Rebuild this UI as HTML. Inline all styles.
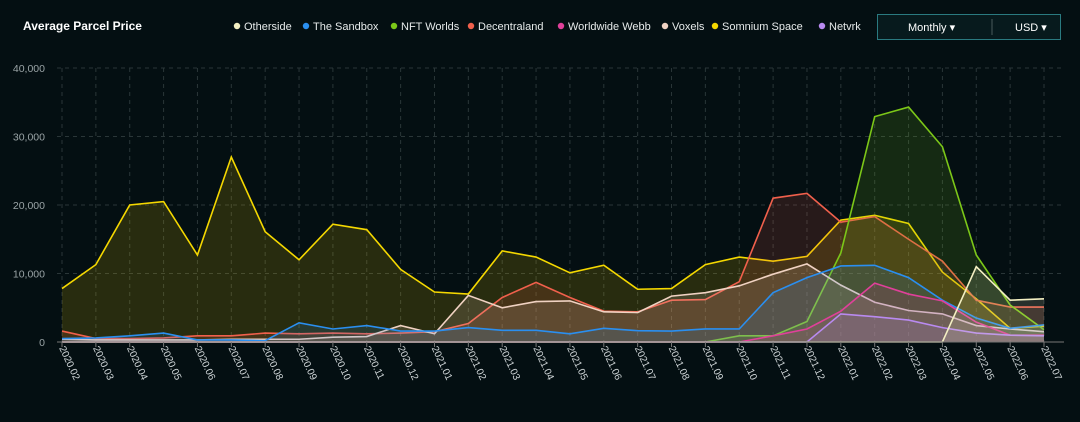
<!DOCTYPE html>
<html><head><meta charset="utf-8"><style>
body{margin:0;background:#040f12;width:1080px;height:417px;overflow:hidden;font-family:"Liberation Sans",sans-serif}
</style></head><body>
<svg width="1080" height="417" xmlns="http://www.w3.org/2000/svg">
<rect width="1080" height="417" fill="#040f12"/>
<text x="23" y="30" fill="#fff" font-size="12" font-weight="bold">Average Parcel Price</text>
<g id="legend"></g>
<g>
<rect x="877.5" y="14.5" width="183" height="25" fill="#071a1d" stroke="#2a7a80"/>
<text x="908" y="31" fill="#fff" font-size="11">Monthly ▾</text>
<line x1="992" y1="19" x2="992" y2="35" stroke="#4a5a5c"/>
<text x="1015" y="31" fill="#fff" font-size="11">USD ▾</text>
</g>
<g id="grid"></g><g id="series"></g><g id="axes"></g>
</svg>
<script>
const categories=["2020.02","2020.03","2020.04","2020.05","2020.06","2020.07","2020.08","2020.09","2020.10","2020.11","2020.12","2021.01","2021.02","2021.03","2021.04","2021.05","2021.06","2021.07","2021.08","2021.09","2021.10","2021.11","2021.12","2022.01","2022.02","2022.03","2022.04","2022.05","2022.06","2022.07"];
const yTicks=[0,10000,20000,30000,40000];
const seriesNames=["Otherside","The Sandbox","NFT Worlds","Decentraland","Worldwide Webb","Voxels","Somnium Space","Netvrk"];
const seriesColors=["#f3efc2","#2a8ff0","#7cc718","#f0604c","#e0409a","#f0d2c2","#f5d800","#b98af0"];
const somnium=[7800,11300,20000,20500,12700,27000,16100,12000,17200,16400,10600,7300,7000,13300,12400,10100,11200,7700,7800,11300,12400,11800,12500,17800,18500,17300,10200,6300,2000,2300];
const decentraland=[1600,500,500,600,900,900,1300,1200,1300,1200,1300,1500,2700,6500,8700,6500,4500,4400,6100,6200,8800,21000,21700,17500,18300,15000,11800,6100,5100,5100];
const nftWorlds=[0,0,0,0,0,0,0,0,0,0,0,0,0,0,0,0,0,0,0,0,900,900,3000,13000,32900,34300,28500,12700,5400,1800];
const sandbox=[500,600,900,1300,300,300,200,2800,1900,2400,1600,1600,2100,1700,1700,1200,2000,1650,1600,1900,1900,7200,9400,11100,11200,9400,6100,3500,2000,2500];
const webb=[0,0,0,0,0,0,0,0,0,0,0,0,0,0,0,0,0,0,0,0,0,900,1900,4500,8600,7000,6000,2900,1000,1000];
const voxels=[400,300,300,300,300,400,400,400,700,800,2400,1200,6800,5000,5900,6000,4400,4300,6700,7200,8200,9900,11400,8300,5800,4600,4100,2400,1900,1500];
const netvrk=[0,0,0,0,0,0,0,0,0,0,0,0,0,0,0,0,0,0,0,0,0,0,0,4100,3700,3200,2100,1300,1000,900];
const otherside=[0,0,0,0,0,0,0,0,0,0,0,0,0,0,0,0,0,0,0,0,0,0,0,0,0,0,0,11000,6100,6300];
const NS="http://www.w3.org/2000/svg";
const X0=62,X1=1044,Y0=342,Y1=68,YMAX=40000;
const xs=i=>X0+i*(X1-X0)/(categories.length-1);
const ys=v=>Y0-v/YMAX*(Y0-Y1);
function mk(t,a,p){const e=document.createElementNS(NS,t);for(const k in a)e.setAttribute(k,a[k]);p.appendChild(e);return e;}
const grid=document.getElementById('grid'),axes=document.getElementById('axes'),ser=document.getElementById('series'),leg=document.getElementById('legend');
yTicks.forEach(v=>{
 if(v>0){const l=mk('line',{x1:X0-5,x2:X1+20,y1:ys(v),y2:ys(v),stroke:'#2a3638','stroke-dasharray':'4 4'},grid);
 
 }
 const t=mk('text',{x:45,y:ys(v)+4,fill:'#9aa4a6','font-size':'10.5','text-anchor':'end'},axes);t.textContent=v.toLocaleString('en-US');
 
 
});
categories.forEach((c,i)=>{
 const l=mk('line',{x1:xs(i),x2:xs(i),y1:Y1,y2:Y0,stroke:'#2a3638','stroke-dasharray':'4 4'},grid);
 
 
 const tk=mk('line',{x1:xs(i),x2:xs(i),y1:Y0,y2:Y0+5,stroke:'#777'},axes);
 
 
 const t=mk('text',{x:0,y:0,fill:'#d0d6d8','font-size':'10',transform:`translate(${xs(i)-3},${Y0+6}) rotate(65)`},axes);t.textContent=c;
 
 
});
const ax=mk('line',{x1:X0-5,x2:X1+20,y1:Y0,y2:Y0,stroke:'#777'},axes);


const data=[otherside,sandbox,nftWorlds,decentraland,webb,voxels,somnium,netvrk];
const order=[6,3,2,5,1,4,7,0];
order.forEach(k=>{
 const d=data[k];const pts=d.map((v,i)=>xs(i)+','+ys(v)).join(' ');
 const a=mk('polygon',{points:pts+` ${xs(d.length-1)},${Y0} ${xs(0)},${Y0}`,fill:seriesColors[k],'fill-opacity':'0.15'},ser);
 
 
 const l=mk('polyline',{points:pts,fill:'none',stroke:seriesColors[k],'stroke-width':'1.6'},ser);
 
 
});
const lx=[237,306,394,471,561,665,715,822];
seriesNames.forEach((n,i)=>{
 const g=mk('g',{},leg);
 
 
 mk('circle',{cx:lx[i],cy:26,r:3.2,fill:seriesColors[i]},g);
 const t=mk('text',{x:lx[i]+7,y:30,fill:'#e6eaea','font-size':'11'},g);t.textContent=n;
});
</script>
</body></html>
